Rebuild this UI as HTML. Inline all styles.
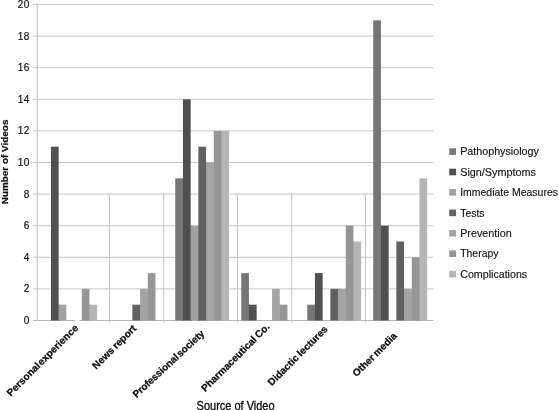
<!DOCTYPE html><html><head><meta charset="utf-8"><title>Chart</title><style>html,body{margin:0;padding:0;background:#fff}svg{display:block}text{font-family:"Liberation Sans",sans-serif;fill:#111}</style></head><body>
<svg width="559" height="410" viewBox="0 0 559 410">
<rect width="559" height="410" fill="#fff"/>
<line x1="33.2" y1="288.90" x2="433.5" y2="288.90" stroke="#c6c6c6" stroke-width="1"/>
<line x1="33.2" y1="257.30" x2="433.5" y2="257.30" stroke="#c6c6c6" stroke-width="1"/>
<line x1="33.2" y1="225.70" x2="433.5" y2="225.70" stroke="#c6c6c6" stroke-width="1"/>
<line x1="33.2" y1="194.10" x2="433.5" y2="194.10" stroke="#c6c6c6" stroke-width="1"/>
<line x1="33.2" y1="162.50" x2="433.5" y2="162.50" stroke="#c6c6c6" stroke-width="1"/>
<line x1="33.2" y1="130.90" x2="433.5" y2="130.90" stroke="#c6c6c6" stroke-width="1"/>
<line x1="33.2" y1="99.30" x2="433.5" y2="99.30" stroke="#c6c6c6" stroke-width="1"/>
<line x1="33.2" y1="67.70" x2="433.5" y2="67.70" stroke="#c6c6c6" stroke-width="1"/>
<line x1="33.2" y1="36.10" x2="433.5" y2="36.10" stroke="#c6c6c6" stroke-width="1"/>
<line x1="33.2" y1="4.50" x2="433.5" y2="4.50" stroke="#c6c6c6" stroke-width="1"/>
<line x1="109.5" y1="194.10" x2="109.5" y2="322.5" stroke="#c2c2c2" stroke-width="1"/>
<line x1="163.8" y1="194.10" x2="163.8" y2="322.5" stroke="#c2c2c2" stroke-width="1"/>
<line x1="237.5" y1="194.10" x2="237.5" y2="322.5" stroke="#c2c2c2" stroke-width="1"/>
<line x1="291.8" y1="194.10" x2="291.8" y2="322.5" stroke="#c2c2c2" stroke-width="1"/>
<line x1="365.5" y1="194.10" x2="365.5" y2="322.5" stroke="#c2c2c2" stroke-width="1"/>
<line x1="37.2" y1="4" x2="37.2" y2="320.5" stroke="#bebebe" stroke-width="1"/>
<line x1="33.2" y1="320.5" x2="433.5" y2="320.5" stroke="#b6b6b6" stroke-width="1"/>
<rect x="75.5" y="319.4" width="3.8" height="2.2" fill="#fff"/>
<rect x="50.95" y="146.70" width="7.70" height="173.80" fill="#505050"/>
<rect x="58.15" y="304.70" width="1.5" height="15.80" fill="#505050"/>
<rect x="58.65" y="304.70" width="7.70" height="15.80" fill="#a1a1a1"/>
<rect x="81.75" y="288.90" width="7.70" height="31.60" fill="#969696"/>
<rect x="88.95" y="304.70" width="1.5" height="15.80" fill="#969696"/>
<rect x="89.45" y="304.70" width="7.70" height="15.80" fill="#b6b6b6"/>
<rect x="132.35" y="304.70" width="7.70" height="15.80" fill="#616161"/>
<rect x="139.55" y="304.70" width="1.5" height="15.80" fill="#616161"/>
<rect x="140.05" y="288.90" width="7.70" height="31.60" fill="#a4a4a4"/>
<rect x="147.25" y="288.90" width="1.5" height="31.60" fill="#a4a4a4"/>
<rect x="147.75" y="273.10" width="7.70" height="47.40" fill="#969696"/>
<rect x="175.25" y="178.30" width="7.70" height="142.20" fill="#767676"/>
<rect x="182.45" y="178.30" width="1.5" height="142.20" fill="#767676"/>
<rect x="182.95" y="99.30" width="7.70" height="221.20" fill="#505050"/>
<rect x="190.15" y="225.70" width="1.5" height="94.80" fill="#505050"/>
<rect x="190.65" y="225.70" width="7.70" height="94.80" fill="#a1a1a1"/>
<rect x="197.85" y="225.70" width="1.5" height="94.80" fill="#a1a1a1"/>
<rect x="198.35" y="146.70" width="7.70" height="173.80" fill="#616161"/>
<rect x="205.55" y="162.50" width="1.5" height="158.00" fill="#616161"/>
<rect x="206.05" y="162.50" width="7.70" height="158.00" fill="#a4a4a4"/>
<rect x="213.25" y="162.50" width="1.5" height="158.00" fill="#a4a4a4"/>
<rect x="213.75" y="130.90" width="7.70" height="189.60" fill="#969696"/>
<rect x="220.95" y="130.90" width="1.5" height="189.60" fill="#969696"/>
<rect x="221.45" y="130.90" width="7.70" height="189.60" fill="#b6b6b6"/>
<rect x="241.25" y="273.10" width="7.70" height="47.40" fill="#767676"/>
<rect x="248.45" y="304.70" width="1.5" height="15.80" fill="#767676"/>
<rect x="248.95" y="304.70" width="7.70" height="15.80" fill="#505050"/>
<rect x="272.05" y="288.90" width="7.70" height="31.60" fill="#a4a4a4"/>
<rect x="279.25" y="304.70" width="1.5" height="15.80" fill="#a4a4a4"/>
<rect x="279.75" y="304.70" width="7.70" height="15.80" fill="#969696"/>
<rect x="307.25" y="304.70" width="7.70" height="15.80" fill="#767676"/>
<rect x="314.45" y="304.70" width="1.5" height="15.80" fill="#767676"/>
<rect x="314.95" y="273.10" width="7.70" height="47.40" fill="#505050"/>
<rect x="330.35" y="288.90" width="7.70" height="31.60" fill="#616161"/>
<rect x="337.55" y="288.90" width="1.5" height="31.60" fill="#616161"/>
<rect x="338.05" y="288.90" width="7.70" height="31.60" fill="#a4a4a4"/>
<rect x="345.25" y="288.90" width="1.5" height="31.60" fill="#a4a4a4"/>
<rect x="345.75" y="225.70" width="7.70" height="94.80" fill="#969696"/>
<rect x="352.95" y="241.50" width="1.5" height="79.00" fill="#969696"/>
<rect x="353.45" y="241.50" width="7.70" height="79.00" fill="#b6b6b6"/>
<rect x="373.25" y="20.30" width="7.70" height="300.20" fill="#767676"/>
<rect x="380.45" y="225.70" width="1.5" height="94.80" fill="#767676"/>
<rect x="380.95" y="225.70" width="7.70" height="94.80" fill="#505050"/>
<rect x="396.35" y="241.50" width="7.70" height="79.00" fill="#616161"/>
<rect x="403.55" y="288.90" width="1.5" height="31.60" fill="#616161"/>
<rect x="404.05" y="288.90" width="7.70" height="31.60" fill="#a4a4a4"/>
<rect x="411.25" y="288.90" width="1.5" height="31.60" fill="#a4a4a4"/>
<rect x="411.75" y="257.30" width="7.70" height="63.20" fill="#969696"/>
<rect x="418.95" y="257.30" width="1.5" height="63.20" fill="#969696"/>
<rect x="419.45" y="178.30" width="7.70" height="142.20" fill="#b6b6b6"/>
<text x="29.3" y="324.00" font-size="10" text-anchor="end" fill="#1a1a1a" stroke="#1a1a1a" stroke-width="0.2">0</text>
<text x="29.3" y="292.40" font-size="10" text-anchor="end" fill="#1a1a1a" stroke="#1a1a1a" stroke-width="0.2">2</text>
<text x="29.3" y="260.80" font-size="10" text-anchor="end" fill="#1a1a1a" stroke="#1a1a1a" stroke-width="0.2">4</text>
<text x="29.3" y="229.20" font-size="10" text-anchor="end" fill="#1a1a1a" stroke="#1a1a1a" stroke-width="0.2">6</text>
<text x="29.3" y="197.60" font-size="10" text-anchor="end" fill="#1a1a1a" stroke="#1a1a1a" stroke-width="0.2">8</text>
<text x="29.8" y="166.00" font-size="10" text-anchor="end" letter-spacing="0.5" fill="#1a1a1a" stroke="#1a1a1a" stroke-width="0.2">10</text>
<text x="29.8" y="134.40" font-size="10" text-anchor="end" letter-spacing="0.5" fill="#1a1a1a" stroke="#1a1a1a" stroke-width="0.2">12</text>
<text x="29.8" y="102.80" font-size="10" text-anchor="end" letter-spacing="0.5" fill="#1a1a1a" stroke="#1a1a1a" stroke-width="0.2">14</text>
<text x="29.8" y="71.20" font-size="10" text-anchor="end" letter-spacing="0.5" fill="#1a1a1a" stroke="#1a1a1a" stroke-width="0.2">16</text>
<text x="29.8" y="39.60" font-size="10" text-anchor="end" letter-spacing="0.5" fill="#1a1a1a" stroke="#1a1a1a" stroke-width="0.2">18</text>
<text x="29.8" y="8.00" font-size="10" text-anchor="end" letter-spacing="0.5" fill="#1a1a1a" stroke="#1a1a1a" stroke-width="0.2">20</text>
<text transform="translate(7.9,204.2) rotate(-90)" font-size="9.4" font-weight="bold" textLength="84.6" lengthAdjust="spacingAndGlyphs" fill="#111" stroke="#111" stroke-width="0.25">Number of Videos</text>
<rect x="449.2" y="148.3" width="6.8" height="6.6" fill="#767676"/>
<text x="460.2" y="155.3" font-size="10.5" textLength="78.6" lengthAdjust="spacingAndGlyphs" fill="#222" stroke="#222" stroke-width="0.15">Pathophysiology</text>
<rect x="449.2" y="168.7" width="6.8" height="6.6" fill="#505050"/>
<text x="460.2" y="175.7" font-size="10.5" textLength="75.6" lengthAdjust="spacingAndGlyphs" fill="#222" stroke="#222" stroke-width="0.15">Sign/Symptoms</text>
<rect x="449.2" y="189.1" width="6.8" height="6.6" fill="#a1a1a1"/>
<text x="460.2" y="196.1" font-size="10.5" textLength="97.8" lengthAdjust="spacingAndGlyphs" fill="#222" stroke="#222" stroke-width="0.15">Immediate Measures</text>
<rect x="449.2" y="209.6" width="6.8" height="6.6" fill="#616161"/>
<text x="460.2" y="216.6" font-size="10.5" textLength="24.4" lengthAdjust="spacingAndGlyphs" fill="#222" stroke="#222" stroke-width="0.15">Tests</text>
<rect x="449.2" y="230.0" width="6.8" height="6.6" fill="#a4a4a4"/>
<text x="460.2" y="237.0" font-size="10.5" textLength="51.5" lengthAdjust="spacingAndGlyphs" fill="#222" stroke="#222" stroke-width="0.15">Prevention</text>
<rect x="449.2" y="250.4" width="6.8" height="6.6" fill="#969696"/>
<text x="460.2" y="257.4" font-size="10.5" textLength="38.3" lengthAdjust="spacingAndGlyphs" fill="#222" stroke="#222" stroke-width="0.15">Therapy</text>
<rect x="449.2" y="270.8" width="6.8" height="6.6" fill="#b6b6b6"/>
<text x="460.2" y="277.8" font-size="10.5" textLength="67" lengthAdjust="spacingAndGlyphs" fill="#222" stroke="#222" stroke-width="0.15">Complications</text>
<text transform="translate(78.9,328.6) rotate(-45)" font-size="10" font-weight="bold" text-anchor="end" fill="#000" stroke="#000" stroke-width="0.25" word-spacing="-2" letter-spacing="0.054">Personal experience</text>
<text transform="translate(136.8,329.2) rotate(-45)" font-size="10" font-weight="bold" text-anchor="end" fill="#000" stroke="#000" stroke-width="0.25" word-spacing="-0.5" letter-spacing="-0.01">News report</text>
<text transform="translate(205,334.4) rotate(-43)" font-size="10" font-weight="bold" text-anchor="end" fill="#000" stroke="#000" stroke-width="0.25" word-spacing="-1.5" letter-spacing="-0.1">Professional society</text>
<text transform="translate(270.2,327.4) rotate(-45)" font-size="10" font-weight="bold" text-anchor="end" fill="#000" stroke="#000" stroke-width="0.25" word-spacing="-0.5" letter-spacing="-0.03">Pharmaceutical Co.</text>
<text transform="translate(328.3,329.8) rotate(-45)" font-size="10" font-weight="bold" text-anchor="end" fill="#000" stroke="#000" stroke-width="0.25" word-spacing="-0.5" letter-spacing="0.02">Didactic lectures</text>
<text transform="translate(397.4,336.5) rotate(-45)" font-size="10" font-weight="bold" text-anchor="end" fill="#000" stroke="#000" stroke-width="0.25" word-spacing="-0.5" letter-spacing="-0.01">Other media</text>
<text x="196.6" y="409.5" font-size="12" textLength="78" lengthAdjust="spacingAndGlyphs" fill="#000" stroke="#000" stroke-width="0.3">Source of Video</text>
</svg></body></html>
